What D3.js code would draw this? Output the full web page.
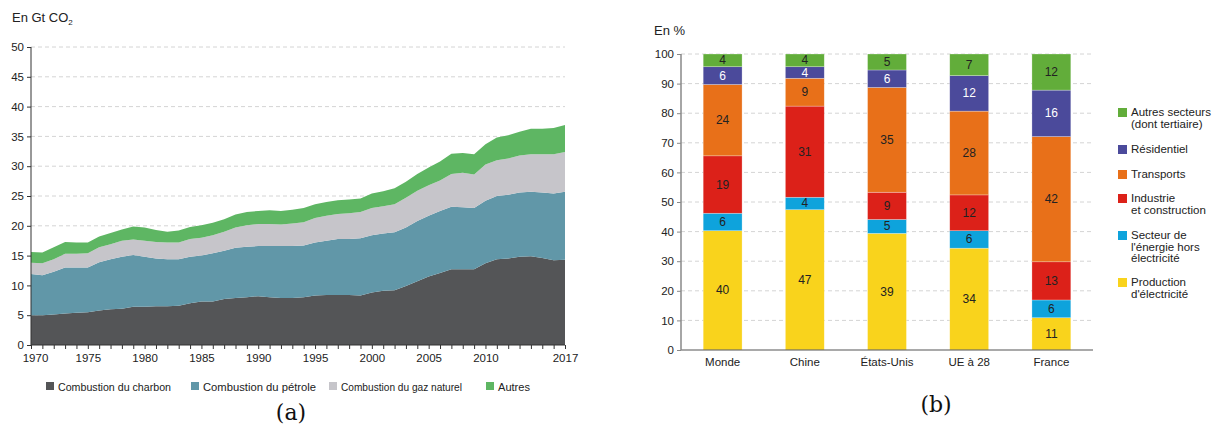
<!DOCTYPE html>
<html>
<head>
<meta charset="utf-8">
<style>
  body { margin: 0; background: #fff; }
  text { font-family: "Liberation Sans", Arial, sans-serif; }
  .caption { font-family: "DejaVu Serif", serif; }
</style>
</head>
<body>
<svg id="chart" width="1219" height="431"></svg>
<script src="https://d3js.org/d3.v7.min.js"></script>
<script>
// ---- (a) émissions mondiales par combustible, Gt CO2
const years = [1970,1971,1972,1973,1974,1975,1976,1977,1978,1979,
               1980,1981,1982,1983,1984,1985,1986,1987,1988,1989,
               1990,1991,1992,1993,1994,1995,1996,1997,1998,1999,
               2000,2001,2002,2003,2004,2005,2006,2007,2008,2009,
               2010,2011,2012,2013,2014,2015,2016,2017];
const charbon = [5.0,5.0,5.1,5.3,5.4,5.5,5.8,6.0,6.1,6.4,
                 6.4,6.5,6.5,6.6,7.0,7.3,7.3,7.7,7.9,8.0,
                 8.2,8.0,7.9,7.9,8.0,8.3,8.4,8.4,8.4,8.3,
                 8.8,9.1,9.2,9.9,10.7,11.5,12.1,12.7,12.7,12.7,
                 13.7,14.4,14.5,14.8,14.9,14.6,14.2,14.3];
const petrole = [6.9,6.7,7.2,7.7,7.6,7.5,8.1,8.4,8.7,8.7,
                 8.4,8.0,7.9,7.8,7.8,7.7,8.1,8.1,8.4,8.5,
                 8.4,8.6,8.7,8.7,8.7,8.9,9.1,9.4,9.4,9.6,
                 9.6,9.6,9.7,9.8,10.1,10.2,10.4,10.5,10.4,10.3,
                 10.5,10.6,10.7,10.8,10.8,11.0,11.2,11.4];
const gaz = [1.9,2.0,2.1,2.3,2.3,2.4,2.5,2.5,2.7,2.6,
             2.7,2.8,2.8,2.8,3.0,3.0,3.0,3.2,3.4,3.6,
             3.7,3.7,3.6,3.8,3.9,4.1,4.2,4.2,4.3,4.4,
             4.6,4.6,4.7,5.0,5.1,5.1,5.1,5.5,5.8,5.6,
             6.1,6.0,6.1,6.2,6.3,6.4,6.6,6.7];
const autres = [1.8,1.8,2.0,2.0,1.9,1.8,1.8,1.9,1.9,2.2,
                2.2,2.0,1.8,2.0,2.0,2.1,2.1,2.1,2.2,2.2,
                2.2,2.3,2.3,2.3,2.4,2.3,2.3,2.3,2.3,2.3,
                2.4,2.5,2.7,2.7,2.8,3.0,3.2,3.4,3.3,3.4,
                3.4,3.8,3.9,4.0,4.3,4.3,4.4,4.5];
const combustibles = ['Combustion du charbon', 'Combustion du pétrole', 'Combustion du gaz naturel', 'Autres'];
const yearTicks = [1970,1975,1980,1985,1990,1995,2000,2005,2010,2017];
const gtTicks = [0,5,10,15,20,25,30,35,40,45,50];

// ---- (b) répartition par secteur, en %
const pays = ['Monde', 'Chine', 'États-Unis', 'UE à 28', 'France'];
const production  = [40.3, 47.4, 39.4, 34.4, 10.9];
const energie     = [5.9, 4.2, 4.7, 5.9, 6.0];
const industrie   = [19.4, 30.8, 9.2, 12.1, 12.9];
const transports  = [24.1, 9.4, 35.4, 28.3, 42.3];
const residentiel = [6.0, 3.9, 5.9, 12.0, 15.7];
const autresSect  = [4.3, 4.3, 5.4, 7.3, 12.2];
const secteurs = [
  ['Production', "d'électricité"],
  ['Secteur de', "l'énergie hors", 'électricité'],
  ['Industrie', 'et construction'],
  ['Transports'],
  ['Résidentiel'],
  ['Autres secteurs', '(dont tertiaire)']
];
const pctTicks = [0,10,20,30,40,50,60,70,80,90,100];

const svg = d3.select('#chart');

// ================= (a) =================
const colorsA = ['#545557', '#6197a8', '#c6c5ca', '#5eb663'];
const tableA = years.map((y, i) => ({year: y, k0: charbon[i], k1: petrole[i], k2: gaz[i], k3: autres[i]}));
const stackA = d3.stack().keys(['k0','k1','k2','k3'])(tableA);

const xA = d3.scaleLinear().domain([1970, 2017]).range([31, 565]);
const yA = d3.scaleLinear().domain([0, 50]).range([345, 47]);

const gA = svg.append('g');

// grille
gA.append('g')
  .selectAll('line')
  .data(gtTicks.filter(d => d > 0))
  .join('line')
  .attr('x1', 31).attr('x2', 565)
  .attr('y1', d => yA(d)).attr('y2', d => yA(d))
  .attr('stroke', '#d4d4d4')
  .attr('stroke-dasharray', '4,3');

const area = d3.area()
  .x(d => xA(d.data.year))
  .y0(d => yA(d[0]))
  .y1(d => yA(d[1]));

gA.append('g')
  .selectAll('path')
  .data(stackA)
  .join('path')
  .attr('fill', (d, i) => colorsA[i])
  .attr('d', area);

// axes
const xAxisA = d3.axisBottom(xA).tickValues(years).tickSize(4).tickPadding(5)
  .tickFormat(d => yearTicks.includes(d) ? d : '');
gA.append('g')
  .attr('transform', 'translate(0,345)')
  .call(xAxisA)
  .call(g => g.selectAll('text').attr('font-size', 11.5).attr('fill', '#222').attr('font-family', '"Liberation Sans", Arial, sans-serif'))
  .call(g => g.selectAll('line, path').attr('stroke', '#333'))
  .call(g => g.select('.domain').attr('d', 'M31,0H565'));
gA.selectAll('.tick text').filter(d => d === 1970).attr('dx', 4);

const yAxisA = d3.axisLeft(yA).tickValues(gtTicks).tickSize(4).tickPadding(3);
gA.append('g')
  .attr('transform', 'translate(31,0)')
  .call(yAxisA)
  .call(g => g.selectAll('text').attr('font-size', 11.5).attr('fill', '#222').attr('font-family', '"Liberation Sans", Arial, sans-serif'))
  .call(g => g.selectAll('line, path').attr('stroke', '#333'))
  .call(g => g.select('.domain').attr('d', 'M0,47V345'));

// titre
const tA = gA.append('text').attr('x', 12).attr('y', 22).attr('font-size', 13).attr('fill', '#222');
tA.append('tspan').text('En Gt CO');
tA.append('tspan').text('2').attr('font-size', 8).attr('dy', 3);

// légende
const legA = gA.append('g').attr('transform', 'translate(0,386)');
const legX = [46, 191, 329, 486];
const legW = [113, 113, 121, 32];
combustibles.forEach((name, i) => {
  legA.append('rect').attr('x', legX[i]).attr('y', -4).attr('width', 8).attr('height', 8).attr('fill', colorsA[i]);
  legA.append('text').attr('x', legX[i] + 12).attr('y', 4.5).attr('font-size', 11.2).attr('fill', '#222')
    .attr('textLength', legW[i]).attr('lengthAdjust', 'spacingAndGlyphs').text(name);
});

svg.append('text').attr('class', 'caption').attr('x', 291).attr('y', 420)
  .attr('text-anchor', 'middle').attr('font-size', 22).attr('fill', '#111').text('(a)');

// ================= (b) =================
const colorsB = ['#f9d31c', '#0ea3dc', '#dc2119', '#e87019', '#4b4a9b', '#62ad3a'];
const seriesB = [production, energie, industrie, transports, residentiel, autresSect];
const keysB = ['s0','s1','s2','s3','s4','s5'];
const tableB = pays.map((p, i) => {
  const row = {pays: p};
  keysB.forEach((k, j) => row[k] = seriesB[j][i]);
  return row;
});
const stackB = d3.stack().keys(keysB)(tableB);

const xB = d3.scaleBand().domain(pays).range([681, 1093]).paddingInner(0.527).paddingOuter(0.27);
const yB = d3.scaleLinear().domain([0, 100]).range([350, 54]);

const gB = svg.append('g');

gB.append('g')
  .selectAll('line')
  .data(pctTicks.filter(d => d > 0))
  .join('line')
  .attr('x1', 681).attr('x2', 1093)
  .attr('y1', d => yB(d)).attr('y2', d => yB(d))
  .attr('stroke', '#d4d4d4')
  .attr('stroke-dasharray', '4,3');

const layers = gB.append('g')
  .selectAll('g')
  .data(stackB)
  .join('g')
  .attr('fill', (d, i) => colorsB[i]);

layers.selectAll('rect')
  .data(d => d)
  .join('rect')
  .attr('x', d => xB(d.data.pays))
  .attr('width', xB.bandwidth())
  .attr('y', d => yB(d[1]))
  .attr('height', d => yB(d[0]) - yB(d[1]))
  .attr('stroke', '#ffffff')
  .attr('stroke-opacity', 0.45)
  .attr('stroke-width', 0.6);

layers.selectAll('text')
  .data((d, i) => d.map(v => ({v, i})))
  .join('text')
  .attr('x', d => xB(d.v.data.pays) + xB.bandwidth() / 2)
  .attr('y', d => yB((d.v[0] + d.v[1]) / 2) + 4)
  .attr('text-anchor', 'middle')
  .attr('font-size', 12)
  .attr('fill', d => d.i === 4 ? '#ffffff' : '#222')
  .text(d => Math.round(d.v[1] - d.v[0]));

const xAxisB = d3.axisBottom(xB).tickSize(0).tickPadding(8);
gB.append('g')
  .attr('transform', 'translate(0,350)')
  .call(xAxisB)
  .call(g => g.selectAll('text').attr('font-size', 11.5).attr('fill', '#222').attr('font-family', '"Liberation Sans", Arial, sans-serif'))
  .call(g => g.select('.domain').attr('stroke', '#555').attr('stroke-width', 1.2).attr('d', 'M681,0H1093'));

const yAxisB = d3.axisLeft(yB).tickValues(pctTicks).tickSize(4).tickPadding(3);
gB.append('g')
  .attr('transform', 'translate(681,0)')
  .call(yAxisB)
  .call(g => g.selectAll('text').attr('font-size', 11.5).attr('fill', '#222').attr('font-family', '"Liberation Sans", Arial, sans-serif'))
  .call(g => g.selectAll('line').attr('stroke', '#888'))
  .call(g => g.select('.domain').attr('stroke', '#888').attr('stroke-width', 1.5).attr('d', 'M0,54V350'));

gB.append('text').attr('x', 654).attr('y', 35).attr('font-size', 13).attr('fill', '#222').text('En %');

// légende (de haut en bas : autres -> production)
const legYs = [112, 149, 174, 198, 235, 282];
const legB = gB.append('g');
[5, 4, 3, 2, 1, 0].forEach((j, n) => {
  const y0 = legYs[n];
  legB.append('rect').attr('x', 1118).attr('y', y0 - 4).attr('width', 9).attr('height', 9).attr('fill', colorsB[j]);
  const t = legB.append('text').attr('x', 1131).attr('y', y0 + 4).attr('font-size', 11.5).attr('fill', '#222');
  secteurs[j].forEach((line, k) => {
    t.append('tspan').attr('x', 1131).attr('dy', k === 0 ? 0 : 11.6).text(line);
  });
});

svg.append('text').attr('class', 'caption').attr('x', 936).attr('y', 412)
  .attr('text-anchor', 'middle').attr('font-size', 22).attr('fill', '#111').text('(b)');
</script>
</body>
</html>
